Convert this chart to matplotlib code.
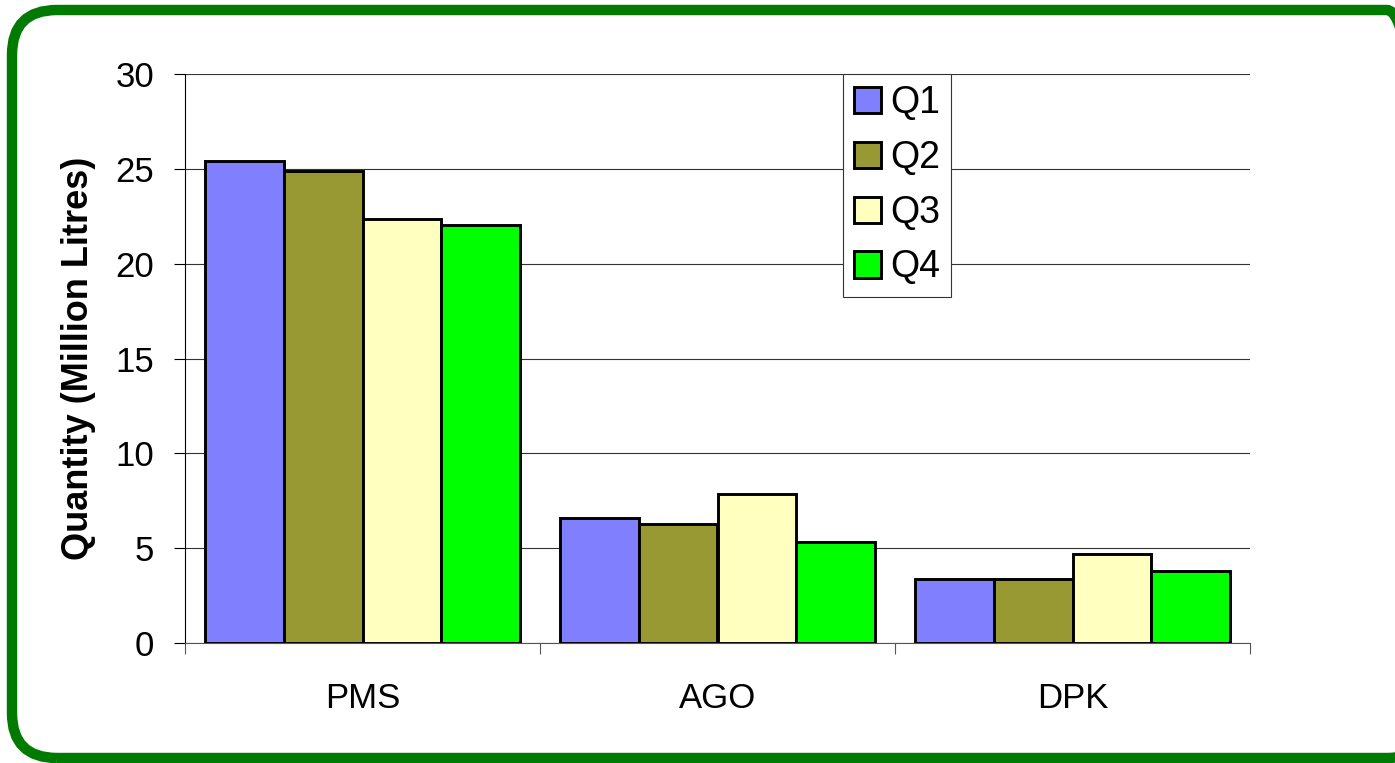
import numpy as np
import matplotlib.pyplot as plt
from matplotlib.patches import FancyBboxPatch

plt.rcParams["font.family"] = ["Liberation Sans", "DejaVu Sans"]
plt.rcParams["font.size"] = 25

# data
categories = ["PMS", "AGO", "DPK"]
quarters = ["Q1", "Q2", "Q3", "Q4"]
q1 = [25.4, 6.6, 3.35]
q2 = [24.9, 6.25, 3.35]
q3 = [22.35, 7.85, 4.7]
q4 = [22.05, 5.3, 3.8]
colors = ["#8080FF", "#999933", "#FFFFC0", "#00FF00"]

W, H = 1395, 763
fig = plt.figure(figsize=(W / 100, H / 100), dpi=100)

# rounded green frame, runs off the right edge like the original
frame = FancyBboxPatch((12, 5), 1420, 748,
                       boxstyle="round,pad=0,rounding_size=45",
                       transform=None, fill=False,
                       ec="#007A00", lw=7.5, zorder=1)
fig.patches.append(frame)

ax = fig.add_axes([185 / W, (H - 643) / H, 1065 / W, 569 / H])

x = np.arange(len(categories)) + 0.5
w = 0.2225
for i, (vals, c, lab) in enumerate(zip([q1, q2, q3, q4], colors, quarters)):
    ax.bar(x + (i - 1.5) * w, vals, w, color=c, edgecolor="black",
           linewidth=2.1, label=lab, zorder=3)

ax.set_xlim(0, 3)
ax.set_ylim(0, 30)
ax.set_yticks(range(0, 31, 5))
ax.yaxis.grid(True, color="#333333", linewidth=0.8, zorder=0)
ax.set_xticks(x)
ax.set_xticklabels(categories)
ax.set_xticks([0, 1, 2, 3], minor=True)
ax.tick_params(axis="x", which="major", length=0, pad=28)
ax.tick_params(axis="x", which="minor", length=8, width=0.8, color="#555555")
ax.tick_params(axis="y", length=8, width=0.8, pad=14)

for s in ["top", "right"]:
    ax.spines[s].set_visible(False)
ax.spines["left"].set_linewidth(0.8)
ax.spines["bottom"].set_linewidth(0.8)
ax.spines["bottom"].set_color("#555555")

ax.set_ylabel("Quantity (Million Litres)", fontweight="bold", fontsize=26,
              labelpad=14)

leg = ax.legend(loc="upper left", bbox_to_anchor=(0.618, 1.0), frameon=True,
                fancybox=False, framealpha=1, edgecolor="#333333", fontsize=27,
                handlelength=0.7, handleheight=0.7, handletextpad=0.25,
                labelspacing=0.5, borderpad=0.3, borderaxespad=0)
leg.get_frame().set_linewidth(0.8)
for h in leg.legend_handles:
    h.set_linewidth(2.1)

fig.savefig("out.png", dpi=100)
